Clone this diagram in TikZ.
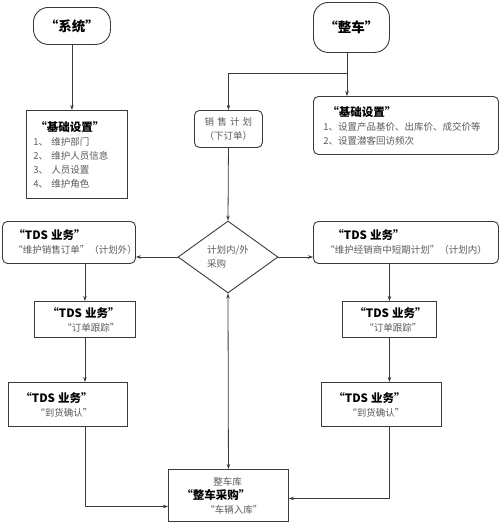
\documentclass[tikz,border=0pt]{standalone}
\usepackage{fontspec}
\setmainfont{Noto Sans CJK SC}
\usepackage{tikz}
\usetikzlibrary{shapes.geometric,arrows.meta}
\definecolor{linegray}{HTML}{3A3A3A}
\definecolor{textgray}{HTML}{5A5A5A}
\newcommand{\boxtitle}[1]{{\color{black}\bfseries\fontsize{11.5}{14}\selectfont #1}}

\begin{document}
\begin{tikzpicture}[x=1pt, y=-1pt, >={Stealth[length=5pt,width=3.5pt]},
    box/.style={draw=linegray, line width=0.9pt, anchor=north west, align=left, inner xsep=7pt, inner ysep=0pt, text=textgray, font=\fontsize{9.5}{14}\selectfont},
    roundbox/.style={box, rounded corners=5pt},
    startbox/.style={draw=linegray, line width=0.9pt, rounded corners=15pt, anchor=north west, font=\bfseries\fontsize{13.5}{16}\selectfont},
    link/.style={draw=linegray, line width=0.8pt}]
  \useasboundingbox (0,0) rectangle (500,522);
  % top: the two starting points
  \node [startbox, minimum width=77pt, minimum height=37pt] (sys) at (33,7) {“系统”};
  \node [startbox, minimum width=76pt, minimum height=50pt] (car) at (313,2) {“整车”};
  \node [box, text width=87pt, minimum height=88pt] (baseL) at (26,110) {\boxtitle{\hspace*{2pt}“基础设置”}\\1、 维护部门\\2、 维护人员信息\\3、 人员设置\\4、 维护角色};
  \node [roundbox, text width=171pt, minimum height=58pt] (baseR) at (313,96) {\boxtitle{\hspace*{7pt}“基础设置”}\\\hspace*{3pt}1、设置产品基价、出库价、成交价等\\\hspace*{3pt}2、设置潜客回访频次};
  \node [roundbox, align=center, text width=54pt, minimum height=37pt] (plan) at (194,110) {销 售 计 划\\（下订单）};
  % middle: the choice
  \node [diamond, draw=linegray, line width=0.9pt, minimum width=100pt, minimum height=72pt, inner sep=0pt, align=left, text=textgray, font=\fontsize{9.5}{14}\selectfont] (choice) at (228,257) {计划内/外\\采购};
  \node [roundbox, text width=119pt, minimum height=42pt] (tdsL) at (2,221) {\boxtitle{\hspace*{4pt}“TDS 业务”}\\\hspace*{4pt}“维护销售订单”（计划外）};
  \node [roundbox, text width=171pt, minimum height=42pt] (tdsR) at (313,221) {\boxtitle{\hspace*{12pt}“TDS 业务”}\\\hspace*{5pt}“维护经销商中短期计划”（计划内）};
  \node [box, text width=87pt, minimum height=36pt] (trackL) at (34,301) {\boxtitle{\hspace*{6pt}“TDS 业务”}\\\hspace*{21pt}“订单跟踪”};
  \node [box, text width=80pt, minimum height=36pt] (trackR) at (342,301) {\boxtitle{\hspace*{5pt}“TDS 业务”}\\\hspace*{15pt}“订单跟踪”};
  \node [box, text width=105pt, minimum height=44pt] (arrL) at (8,382) {\boxtitle{\hspace*{5pt}“TDS 业务”}\\\hspace*{20pt}“到货确认”};
  \node [box, text width=106pt, minimum height=44pt] (arrR) at (321,382) {\boxtitle{\hspace*{5pt}“TDS 业务”}\\\hspace*{19pt}“到货确认”};
  % bottom: the store
  \node [box, text width=106pt, minimum height=52pt] (stock) at (168,469) {\hspace*{38pt}整车库\\\boxtitle{\hspace*{6pt}“整车采购”}\\\hspace*{30pt}“车辆入库”};
  \coordinate (split) at (347,73);
  \draw [link,->] (sys.south) -- (sys.south |- baseL.north);
  \draw [link] (split |- car.south) -- (split);
  \draw [link,->] (split) -- (split |- baseR.north);
  \draw [link,->] (split) -| (plan.north);
  \draw [link,->] (plan.south) -- (choice.north);
  \draw [link,->] (choice.west) -- (choice.west -| tdsL.east);
  \draw [link,->] (choice.east) -- (choice.east -| tdsR.west);
  \draw [link,->] (trackL.north |- tdsL.south) -- (trackL.north);
  \draw [link,->] (trackL.south) -- (trackL.south |- arrL.north);
  \draw [link,->] (trackR.north |- tdsR.south) -- (trackR.north);
  \draw [link,->] (trackR.south) -- (trackR.south |- arrR.north);
  \draw [link,->] (trackL.south |- arrL.south) |- ([yshift=-11pt]stock.west);
  \draw [link,->] (trackR.south |- arrR.south) |- ([yshift=-3pt]stock.east);
  \draw [link,<->] (choice.south) -- (stock.north);
\end{tikzpicture}
\end{document}
